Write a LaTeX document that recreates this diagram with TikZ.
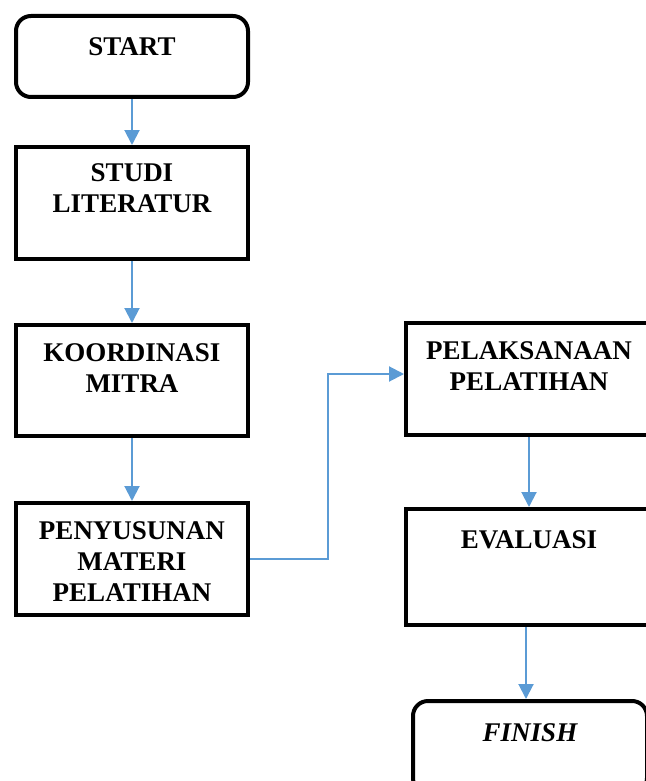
\documentclass[tikz,border=0pt]{standalone}
\usepackage{fontspec}
\setmainfont{Liberation Serif}
\usetikzlibrary{positioning,arrows.meta}
\definecolor{arrblue}{HTML}{5B9BD5}
\begin{document}
\begin{tikzpicture}[x=0.5pt,y=-0.5pt]
  \tikzstyle{box}=[draw,line width=2pt,rectangle,inner sep=0pt]
  \tikzstyle{term}=[box,rounded corners=7.5pt]
  \tikzstyle{txt}=[inner sep=0pt,align=center,font=\fontsize{13.5}{15.5}\selectfont\bfseries]
  \tikzstyle{arr}=[draw=arrblue,line width=1pt,-{Triangle[width=7.5pt,length=7.5pt]}]
  \useasboundingbox (0,0) rectangle (646,781);
  \clip (0,0) rectangle (646,781);
  % left column
  \node[term,minimum width=116pt,minimum height=40.5pt] (start) at (132,56.5) {};
  \node[box,minimum width=116pt,minimum height=56pt] (studi) at (132,203) {};
  \node[box,minimum width=116pt,minimum height=55.5pt] (koord) at (132,380.5) {};
  \node[box,minimum width=116pt,minimum height=56pt] (susun) at (132,559) {};
  % right column
  \node[box,minimum width=123pt,minimum height=56pt] (laksana) at (529,379) {};
  \node[box,minimum width=123pt,minimum height=58pt] (eval) at (529,567) {};
  \node[term,minimum width=117pt,minimum height=46pt] (finish) at (530,747) {};
  % texts
  \node[txt,below=11.5pt of start.north] (startT) {START};
  \node[txt,below=9pt of studi.north] (studiT) {STUDI\\LITERATUR};
  \node[txt,below=10pt of koord.north] (koordT) {KOORDINASI\\MITRA};
  \node[txt,below=10pt of susun.north] (susunT) {PENYUSUNAN\\MATERI\\PELATIHAN};
  \node[txt,below=10pt of laksana.north] (laksanaT) {PELAKSANAAN\\PELATIHAN};
  \node[txt,below=11.5pt of eval.north] (evalT) {EVALUASI};
  \node[txt,below=12pt of finish.north] (finishT) {\itshape FINISH};
  % arrows
  \draw[arr] (start) -- (studi);
  \draw[arr] (studi) -- (koord);
  \draw[arr] (koord) -- (susun);
  \coordinate (bend) at (328,374);
  \draw[arr] (susun.east) -| (bend) -- (laksana.west |- bend);
  \draw[arr] (laksana) -- (eval);
  \coordinate (evalout) at ([xshift=-1.5pt]eval.south);
  \draw[arr] (evalout) -- (evalout |- finish.north);
\end{tikzpicture}
\end{document}
